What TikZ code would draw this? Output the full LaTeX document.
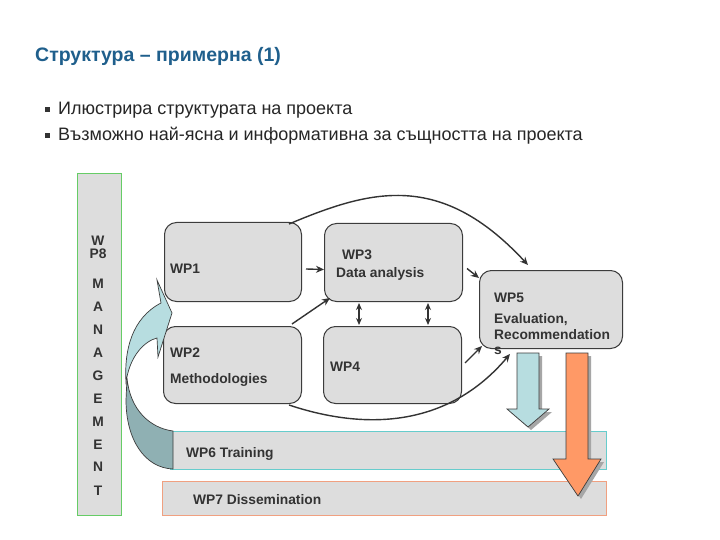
\documentclass[tikz,border=0pt]{standalone}
\usepackage{fontspec}
\setmainfont{Liberation Sans}
\usetikzlibrary{arrows.meta,calc}
\definecolor{titleblue}{RGB}{31,95,140}
\definecolor{boxgray}{RGB}{221,221,221}
\definecolor{edgegray}{RGB}{60,60,60}
\definecolor{txtgray}{RGB}{51,51,51}
\definecolor{mgreen}{RGB}{102,204,102}
\definecolor{teal6}{RGB}{102,204,204}
\definecolor{salmon7}{RGB}{240,160,128}
\definecolor{lightblue}{RGB}{183,221,224}
\definecolor{darkteal}{RGB}{143,176,179}
\definecolor{orangeA}{RGB}{255,153,102}
\definecolor{arrgray}{RGB}{51,51,51}
\begin{document}
\begin{tikzpicture}[x=1pt,y=-1pt,
  wpbox/.style={draw=edgegray,fill=boxgray,rounded corners=12pt,line width=1pt,inner sep=0pt,anchor=north west},
  barbox/.style={fill=boxgray,line width=1pt,inner sep=0pt,anchor=north west},
  lbl/.style={inner sep=0pt,anchor=west,text=txtgray,font=\fontsize{13.8}{14}\bfseries\selectfont,text height=9.9pt,text depth=0pt},
  mlbl/.style={inner sep=0pt,anchor=center,text=txtgray,font=\fontsize{13.8}{14}\bfseries\selectfont,text height=9.9pt,text depth=0pt},
  arr/.style={draw=arrgray,line width=1.4pt,-{Stealth[length=8pt,width=7pt]}},
  darr/.style={draw=arrgray,line width=1.4pt,{Stealth[length=7pt,width=6pt]}-{Stealth[length=7pt,width=6pt]}},
  bul/.style={inner sep=0pt,anchor=base west,text=black!85,font=\fontsize{18}{20}\selectfont}
]
\useasboundingbox (0,0) rectangle (720,540);
\fill[white] (0,0) rectangle (720,540);

% title and bullets
\node[inner sep=0pt,anchor=base west,text=titleblue,font=\fontsize{19.5}{22}\bfseries\selectfont] (title) at (35,62) {Структура – примерна (1)};
\node[bul] (b1) at (45,115) {\textcolor{black!80}{\raisebox{3pt}{\rule{5pt}{5pt}}}\hspace{8pt}Илюстрира структурата на проекта};
\node[bul] (b2) at (45,141) {\textcolor{black!80}{\raisebox{3pt}{\rule{5pt}{5pt}}}\hspace{8pt}Възможно най-ясна и информативна за същността на проекта};

% management column
\node[draw=mgreen,fill=boxgray,line width=1pt,inner sep=0pt,anchor=north west,minimum width=44pt,minimum height=342pt] (mgmt) at (77,173) {};
\node[mlbl] (mW) at (98,241) {W};
\node[mlbl] (mP) at (98,254) {P8};
\node[mlbl] (m1) at (98,284) {M};
\node[mlbl] (m2) at (98,307) {A};
\node[mlbl] (m3) at (98,330) {N};
\node[mlbl] (m4) at (98,353) {A};
\node[mlbl] (m5) at (98,376) {G};
\node[mlbl] (m6) at (98,399) {E};
\node[mlbl] (m7) at (98,422) {M};
\node[mlbl] (m8) at (98,445) {E};
\node[mlbl] (m9) at (98,467) {N};
\node[mlbl] (m10) at (98,491) {T};

% bars
\node[barbox,draw=teal6,minimum width=436pt,minimum height=38pt] (wp6) at (170,431) {};
\node[barbox,draw=salmon7,minimum width=444pt,minimum height=34pt] (wp7) at (162,481) {};
\node[lbl] (t6) at (186,453) {WP6 Training};
\node[lbl] (t7) at (193,500) {WP7 Dissemination};

% WP boxes
\node[wpbox,minimum width=137pt,minimum height=79pt] (wp1) at (164,222) {};
\node[wpbox,minimum width=138pt,minimum height=78pt] (wp3) at (324,223) {};
\node[wpbox,minimum width=138pt,minimum height=77pt] (wp2) at (163,326) {};
\node[wpbox,minimum width=138pt,minimum height=77pt] (wp4) at (323,326) {};
\node[wpbox,minimum width=143pt,minimum height=78pt] (wp5) at (479,270) {};

\node[lbl] (t1) at (170,269) {WP1};
\node[lbl] (t3a) at (342,255) {WP3};
\node[lbl] (t3b) at (336,273) {Data analysis};
\node[lbl] (t2a) at (170,353) {WP2};
\node[lbl] (t2b) at (170,379) {Methodologies};
\node[lbl] (t4) at (330,367) {WP4};
\node[lbl] (t5a) at (494,298) {WP5};
\node[lbl] (t5b) at (494,319) {Evaluation,};
\node[lbl] (t5c) at (494,335) {Recommendation};
\node[lbl] (t5d) at (494,350) {s};

% connectors
\draw[arr] ($(wp1.east)+(4,7)$) -- ($(wp3.west)+(0,7)$);
\draw[arr] ($(wp2.north east)+(-10,-2)$) -- ($(wp3.south west)+(6,-4)$);
\draw[arr] ($(wp1.north east)+(-13,2)$) .. controls (370,190) and (440,170) .. ($(wp5.north west)+(49,-5)$);
\draw[arr] ($(wp3.east)+(4,6)$) -- ($(wp5.north west)+(0,8)$);
\draw[darr] ($(wp3.south west)+(35,1)$) -- ($(wp4.north west)+(36,-1)$);
\draw[darr] ($(wp3.south west)+(104,1)$) -- ($(wp4.north west)+(105,-1)$);
\draw[arr] ($(wp4.east)+(3,-2)$) -- ($(wp5.south west)+(3,-3)$);
\coordinate (send) at (510,354);
\draw[arr] ($(wp2.south east)+(-13,1)$) .. controls (370,432) and (450,425) .. (send);

% curved block arrow (WP6 -> WP1/WP2)
\draw[draw=edgegray,line width=0.7pt,fill=darkteal]
  (127,378) .. controls (130,410) and (150,428) .. (173,431) -- (173,469)
  .. controls (145,468) and (126,440) .. (126,400) -- cycle;
\draw[draw=edgegray,line width=0.7pt,fill=lightblue]
  (126,382) .. controls (124,350) and (132,318) .. (161,303) -- (157,280) -- (172,313) -- (158,357)
  -- (157,338) .. controls (145,341) and (130,355) .. (126,382) -- cycle;

% down block arrows from WP5
\fill[gray!70] (520,356) -- (542,356) -- (542,412) -- (552,412) -- (531,430) -- (510,412) -- (520,412) -- cycle;
\draw[draw=edgegray,line width=0.7pt,fill=lightblue] (517,353) -- (539,353) -- (539,409) -- (549,409) -- (528,427) -- (507,409) -- (517,409) -- cycle;
\fill[gray!70] (569,356) -- (591,356) -- (591,462) -- (604,462) -- (581,499) -- (556,462) -- (569,462) -- cycle;
\draw[draw=edgegray,line width=0.7pt,fill=orangeA] (566,353) -- (588,353) -- (588,459) -- (601,459) -- (578,496) -- (553,459) -- (566,459) -- cycle;
\end{tikzpicture}
\end{document}
